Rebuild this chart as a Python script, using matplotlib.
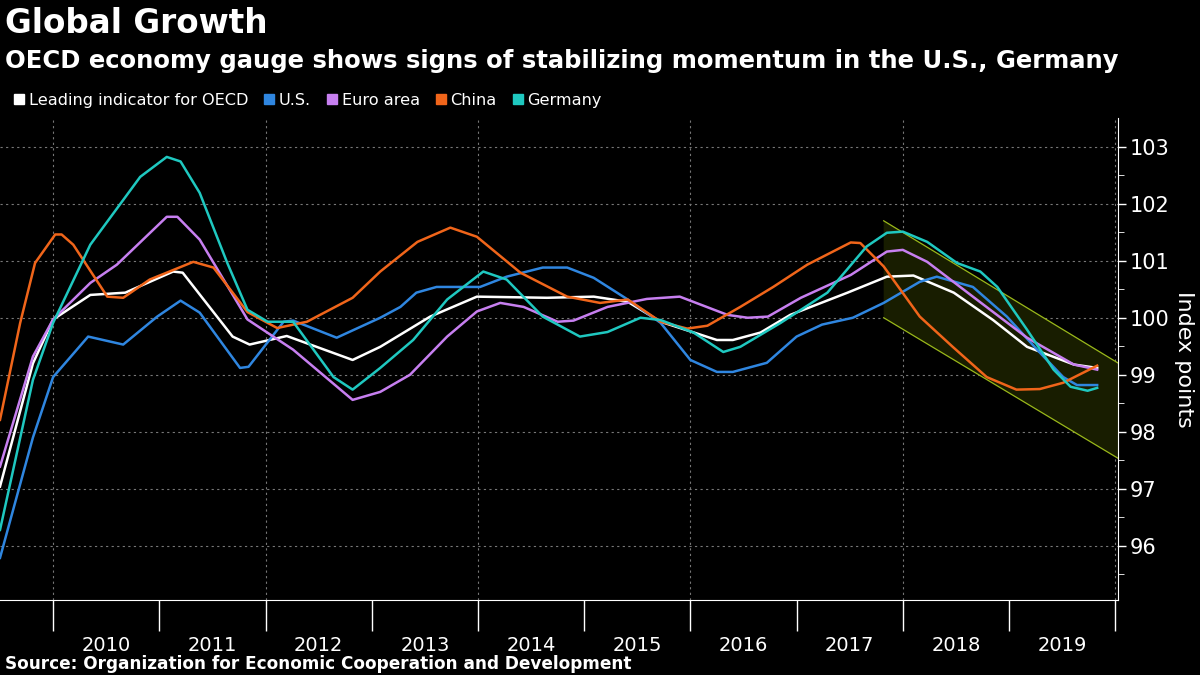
import matplotlib
matplotlib.use("Agg")
import matplotlib.pyplot as plt
from matplotlib.patches import Polygon
from matplotlib.lines import Line2D

oecd_t = [2009.50,2009.81,2010.0,2010.35,2010.68,2011.13,2011.22,2011.69,2011.85,2012.20,2012.82,2013.08,2013.55,2013.99,2014.65,2015.09,2015.41,2015.72,2016.25,2016.40,2016.66,2016.94,2017.48,2017.85,2018.10,2018.48,2018.85,2019.17,2019.61,2019.83]
oecd_v = [97.04,99.2,99.97,100.4,100.44,100.81,100.79,99.67,99.53,99.68,99.26,99.49,100.02,100.37,100.35,100.37,100.28,99.93,99.61,99.61,99.74,100.05,100.44,100.72,100.74,100.44,99.96,99.49,99.18,99.12]

us_t = [2009.50,2009.81,2010.0,2010.33,2010.66,2010.98,2011.20,2011.38,2011.76,2011.84,2012.17,2012.26,2012.67,2013.08,2013.27,2013.42,2013.61,2014.02,2014.27,2014.61,2014.84,2015.09,2015.41,2015.72,2016.0,2016.25,2016.40,2016.72,2017.0,2017.24,2017.53,2017.82,2018.16,2018.32,2018.66,2018.98,2019.29,2019.51,2019.64,2019.83]
us_v = [95.79,97.9,98.96,99.67,99.53,100.02,100.3,100.09,99.12,99.14,99.93,99.95,99.65,100.0,100.19,100.44,100.54,100.54,100.72,100.88,100.88,100.7,100.32,99.91,99.26,99.05,99.05,99.21,99.67,99.88,100.0,100.26,100.63,100.72,100.54,100.02,99.39,98.96,98.82,98.82]

euro_t = [2009.50,2009.81,2010.0,2010.35,2010.60,2011.07,2011.17,2011.38,2011.83,2012.26,2012.82,2013.08,2013.36,2013.71,2013.99,2014.21,2014.43,2014.75,2014.90,2015.22,2015.59,2015.90,2016.35,2016.54,2016.73,2017.04,2017.51,2017.85,2018.0,2018.23,2018.66,2019.17,2019.61,2019.83]
euro_v = [97.39,99.32,99.97,100.61,100.93,101.77,101.77,101.37,99.97,99.44,98.56,98.7,99.0,99.67,100.11,100.26,100.19,99.93,99.95,100.19,100.33,100.37,100.05,100.0,100.02,100.35,100.75,101.16,101.19,100.98,100.37,99.65,99.18,99.09]

china_t = [2009.50,2009.69,2009.83,2010.02,2010.08,2010.19,2010.51,2010.66,2010.91,2011.32,2011.51,2011.83,2012.11,2012.39,2012.82,2013.08,2013.43,2013.74,2013.99,2014.40,2014.84,2015.15,2015.41,2015.72,2015.97,2016.16,2016.47,2016.78,2017.10,2017.51,2017.60,2017.82,2018.16,2018.47,2018.79,2019.07,2019.29,2019.51,2019.83]
china_v = [98.21,99.91,100.96,101.46,101.46,101.28,100.37,100.35,100.67,100.98,100.88,100.1,99.82,99.93,100.35,100.81,101.33,101.58,101.42,100.79,100.37,100.26,100.32,99.93,99.81,99.86,100.19,100.54,100.93,101.32,101.31,100.9,100.02,99.49,98.96,98.74,98.75,98.86,99.16]

ger_t = [2009.50,2009.81,2010.0,2010.35,2010.82,2011.07,2011.20,2011.38,2011.64,2011.83,2012.02,2012.26,2012.64,2012.82,2013.08,2013.39,2013.71,2014.05,2014.27,2014.61,2014.96,2015.22,2015.53,2015.72,2016.03,2016.31,2016.47,2016.85,2017.29,2017.66,2017.85,2018.0,2018.23,2018.51,2018.73,2018.89,2019.17,2019.42,2019.58,2019.74,2019.83]
ger_v = [96.28,98.91,99.91,101.28,102.47,102.82,102.74,102.19,100.96,100.14,99.93,99.93,98.96,98.74,99.12,99.61,100.32,100.81,100.67,100.02,99.67,99.75,100.0,99.96,99.74,99.40,99.49,99.91,100.44,101.25,101.49,101.51,101.33,100.96,100.81,100.54,99.79,99.09,98.79,98.72,98.77]

channel_t = [2017.82, 2020.05]
channel_top = [101.70, 99.18]
channel_bot = [100.0, 97.51]

years = list(range(2010, 2020))
names = ["Leading indicator for OECD", "U.S.", "Euro area", "China", "Germany"]
colors = ["#ffffff", "#2f86e0", "#c77ff0", "#f0651a", "#1fc8c0"]

fig = plt.figure(figsize=(12, 6.75), dpi=100, facecolor="black")
ax = fig.add_axes([0.0, 0.111, 0.932, 0.714], facecolor="black")

poly = Polygon([(channel_t[0], channel_bot[0]), (channel_t[0], channel_top[0]),
                (channel_t[1], channel_top[1]), (channel_t[1], channel_bot[1])],
               closed=True, facecolor="#181d00", edgecolor="none", zorder=1)
ax.add_patch(poly)
ax.plot(channel_t, channel_top, color="#9ab81a", lw=0.9, zorder=2)
ax.plot(channel_t, channel_bot, color="#9ab81a", lw=0.9, zorder=2)

series = [(oecd_t, oecd_v), (us_t, us_v), (euro_t, euro_v), (china_t, china_v), (ger_t, ger_v)]
for (t, v), c in zip(series, colors):
    ax.plot(t, v, color=c, lw=1.8, zorder=3, solid_joinstyle="round")

ax.set_xlim(2009.5, 2020.03)
ax.set_ylim(95.05, 103.5)

ax.yaxis.tick_right()
ax.set_yticks(range(96, 104))
ax.set_yticks([95.5 + i for i in range(8)], minor=True)
ax.tick_params(axis="y", colors="white", labelsize=15, length=6, width=1, direction="out", pad=2)
ax.tick_params(axis="y", which="minor", colors="white", length=4)
ax.yaxis.set_label_position("right")
ax.set_ylabel("Index points", color="white", fontsize=16, rotation=270, labelpad=18)

ax.set_xticks([y for y in years] + [2020])
ax.set_xticklabels([])
ax.set_xticks([y + 0.5 for y in years], minor=True)
ax.set_xticklabels([str(y) for y in years], minor=True)
ax.tick_params(axis="x", which="major", colors="white", length=22, width=1, direction="out")
ax.tick_params(axis="x", which="minor", colors="white", length=0, labelsize=14, pad=26)

for yv in range(96, 104):
    ax.axhline(yv, color="#777777", lw=0.8, ls=(0, (2, 3)), zorder=0)
for xv in range(2010, 2021, 2):
    ax.axvline(xv, color="#777777", lw=0.8, ls=(0, (2, 3)), zorder=0)

for s in ["top", "left"]:
    ax.spines[s].set_visible(False)
for s in ["bottom", "right"]:
    ax.spines[s].set_color("white")

fig.text(0.004, 0.965, "Global Growth", color="white", fontsize=23.5, fontweight="bold", va="center")
fig.text(0.004, 0.91, "OECD economy gauge shows signs of stabilizing momentum in the U.S., Germany",
         color="white", fontsize=17.5, fontweight="bold", va="center")
handles = [Line2D([0], [0], marker="s", color="none", markerfacecolor=c, markeredgecolor=c, markersize=7) for c in colors]
fig.legend(handles, names, loc="center left", bbox_to_anchor=(0.0, 0.851), ncol=5, frameon=False,
           labelcolor="white", fontsize=11.6, handlelength=0.6, handletextpad=0.3, columnspacing=1.0)
fig.text(0.004, 0.017, "Source: Organization for Economic Cooperation and Development", color="white",
         fontsize=12.2, fontweight="bold", va="center")

fig.savefig("out.png", dpi=100, facecolor="black")
